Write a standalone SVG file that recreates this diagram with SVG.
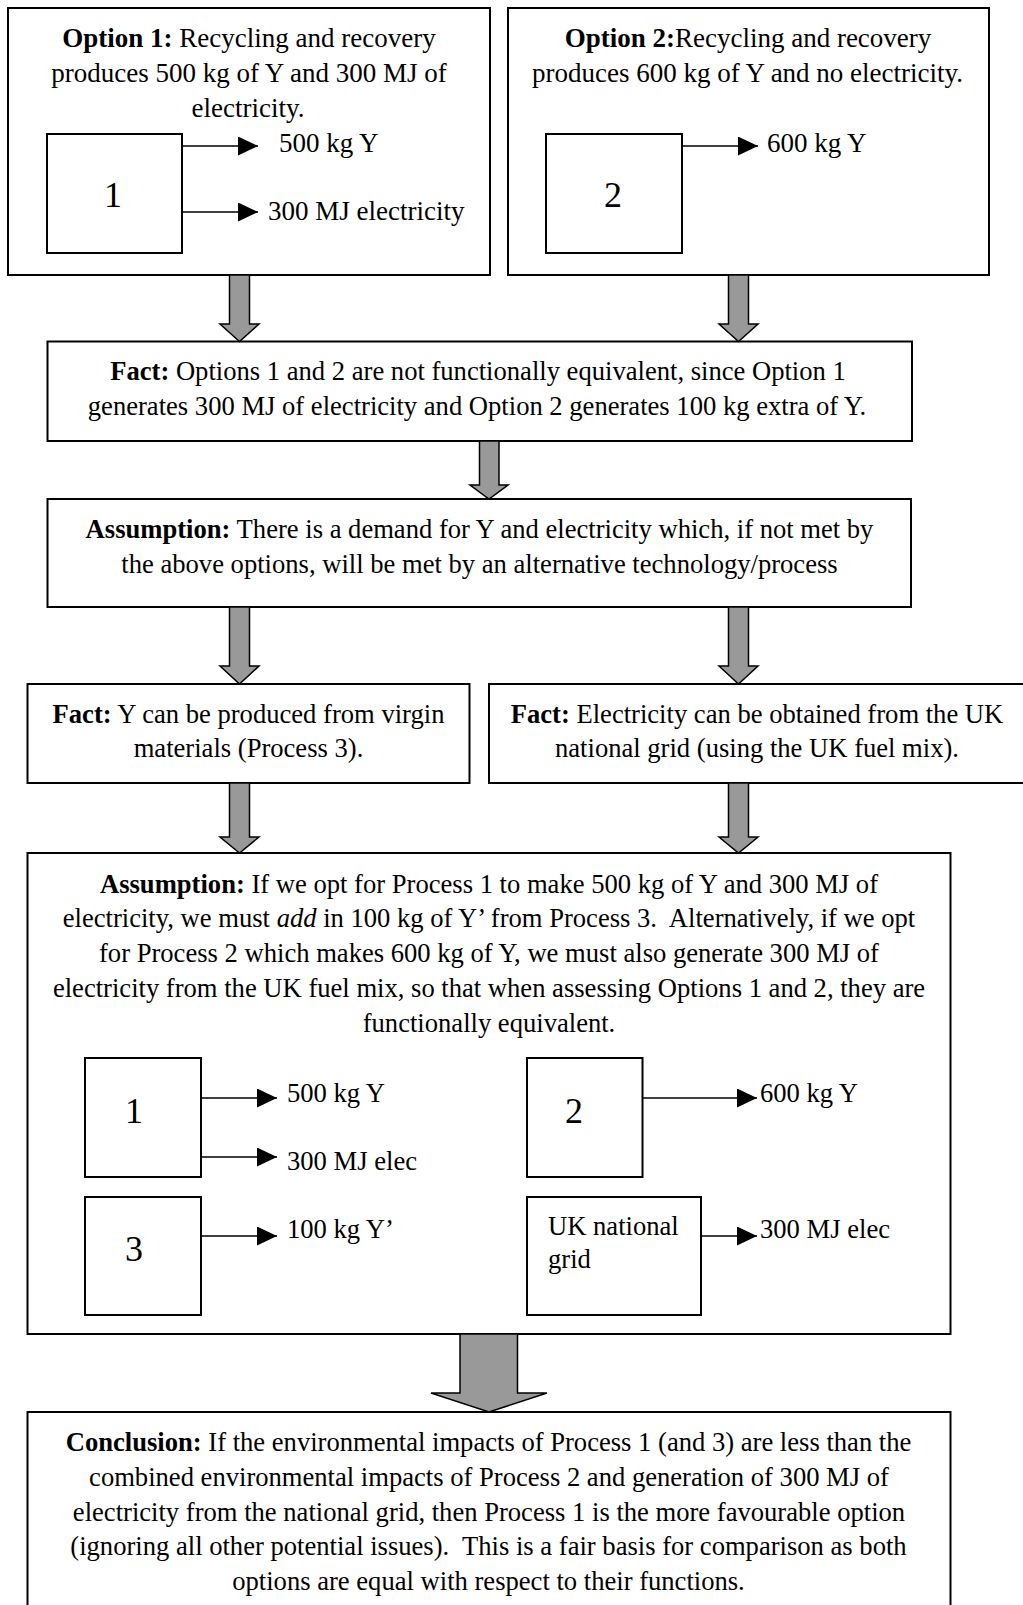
<svg xmlns="http://www.w3.org/2000/svg" width="1023" height="1605" viewBox="0 0 1023 1605">
<style>
text{font-family:"Liberation Serif","Times New Roman",serif;font-size:26.6px;fill:#000}
.c{text-anchor:middle}
.b{font-weight:bold}
.opt{font-size:27px}
.num{font-size:36px;text-anchor:middle}
.box{fill:#fff;stroke:#000;stroke-width:2}
.ln{stroke:#000;stroke-width:1.6;fill:none;marker-end:url(#ah)}
.blk{fill:#999;stroke:#000;stroke-width:1.5;stroke-linejoin:miter}
</style>
<defs>
<marker id="ah" markerUnits="userSpaceOnUse" markerWidth="20" markerHeight="19" refX="20" refY="9.5" orient="auto">
<path d="M0,0 L20,9.5 L0,19 Z" fill="#000"/>
</marker>
</defs>
<rect width="1023" height="1605" fill="#fff"/>

<g id="option1">
<rect class="box" x="8" y="8" width="482" height="267"/>
<text class="c opt" x="249" y="47"><tspan class="b">Option 1:</tspan> Recycling and recovery</text>
<text class="c opt" x="249" y="82">produces 500 kg of Y and 300 MJ of</text>
<text class="c opt" x="248" y="117">electricity.</text>
<rect class="box" x="47" y="134" width="135" height="119"/>
<text class="num" x="113" y="207">1</text>
<line class="ln" x1="182" y1="146" x2="258" y2="146"/>
<text class="opt" x="279" y="152">500 kg Y</text>
<line class="ln" x1="182" y1="212" x2="258" y2="212"/>
<text class="opt" x="268" y="220">300 MJ electricity</text>
</g>

<g id="option2">
<rect class="box" x="508" y="8" width="481" height="267"/>
<text class="c opt" x="748" y="47"><tspan class="b">Option 2:</tspan>Recycling and recovery</text>
<text class="c opt" x="747.5" y="82">produces 600 kg of Y and no electricity.</text>
<rect class="box" x="546" y="134" width="136" height="119"/>
<text class="num" x="613" y="207">2</text>
<line class="ln" x1="682" y1="146" x2="758" y2="146"/>
<text class="opt" x="767" y="152">600 kg Y</text>
</g>

<g id="fact1">
<rect class="box" x="47.5" y="341.5" width="864.5" height="99.5"/>
<text class="c" x="478" y="380"><tspan class="b">Fact:</tspan> Options 1 and 2 are not functionally equivalent, since Option 1</text>
<text class="c" x="477" y="415">generates 300 MJ of electricity and Option 2 generates 100 kg extra of Y.</text>
</g>

<g id="assumption1">
<rect class="box" x="47.5" y="499" width="863.5" height="108"/>
<text class="c" x="479.5" y="538"><tspan class="b">Assumption:</tspan> There is a demand for Y and electricity which, if not met by</text>
<text class="c" x="479.5" y="573">the above options, will be met by an alternative technology/process</text>
</g>

<g id="factY">
<rect class="box" x="27.5" y="684" width="442" height="99"/>
<text class="c" x="248.5" y="723"><tspan class="b">Fact:</tspan> Y can be produced from virgin</text>
<text class="c" x="248.5" y="757">materials (Process 3).</text>
</g>

<g id="factElec">
<rect class="box" x="489" y="684" width="545" height="99"/>
<text class="c" x="757" y="723"><tspan class="b">Fact:</tspan> Electricity can be obtained from the UK</text>
<text class="c" x="757" y="757">national grid (using the UK fuel mix).</text>
</g>

<g id="assumption2">
<rect class="box" x="27.5" y="853" width="923" height="481"/>
<text class="c" x="489" y="893"><tspan class="b">Assumption:</tspan> If we opt for Process 1 to make 500 kg of Y and 300 MJ of</text>
<text class="c" x="489" y="927" xml:space="preserve">electricity, we must <tspan font-style="italic">add</tspan> in 100 kg of Y’ from Process 3.  Alternatively, if we opt</text>
<text class="c" x="489" y="962">for Process 2 which makes 600 kg of Y, we must also generate 300 MJ of</text>
<text class="c" x="489" y="997">electricity from the UK fuel mix, so that when assessing Options 1 and 2, they are</text>
<text class="c" x="489" y="1032">functionally equivalent.</text>
<rect class="box" x="85" y="1058" width="116" height="119"/>
<text class="num" x="134" y="1123">1</text>
<line class="ln" x1="201" y1="1098" x2="277" y2="1098"/>
<text x="287" y="1102">500 kg Y</text>
<line class="ln" x1="201" y1="1157" x2="277" y2="1157"/>
<text x="287" y="1170">300 MJ elec</text>
<rect class="box" x="85" y="1197" width="116" height="118"/>
<text class="num" x="134" y="1261">3</text>
<line class="ln" x1="201" y1="1236" x2="277" y2="1236"/>
<text x="287" y="1238">100 kg Y’</text>
<rect class="box" x="527" y="1058" width="115.5" height="119"/>
<text class="num" x="574" y="1123">2</text>
<line class="ln" x1="642.5" y1="1098" x2="757" y2="1098"/>
<text x="760" y="1102">600 kg Y</text>
<rect class="box" x="527" y="1197" width="174" height="118"/>
<text x="548" y="1235">UK national</text>
<text x="548" y="1268">grid</text>
<line class="ln" x1="701" y1="1236" x2="757" y2="1236"/>
<text x="760" y="1238">300 MJ elec</text>
</g>

<g id="conclusion">
<rect class="box" x="27.5" y="1412" width="923" height="210"/>
<text class="c" x="488.5" y="1451"><tspan class="b">Conclusion:</tspan> If the environmental impacts of Process 1 (and 3) are less than the</text>
<text class="c" x="489" y="1486">combined environmental impacts of Process 2 and generation of 300 MJ of</text>
<text class="c" x="489" y="1520.5">electricity from the national grid, then Process 1 is the more favourable option</text>
<text class="c" x="488.5" y="1555" xml:space="preserve">(ignoring all other potential issues).  This is a fair basis for comparison as both</text>
<text class="c" x="488.5" y="1589.5">options are equal with respect to their functions.</text>
</g>

<g id="connectors">
<polygon class="blk" points="229.5,275 249.5,275 249.5,324 259,324 239.5,341.5 220,324 229.5,324"/>
<polygon class="blk" points="728.5,275 748.5,275 748.5,324 758,324 738.5,341.5 719,324 728.5,324"/>
<polygon class="blk" points="479.5,441 499,441 499,485 508,485 489,499 470,485 479.5,485"/>
<polygon class="blk" points="229.5,607 249.5,607 249.5,666 259,666 239.5,684 220,666 229.5,666"/>
<polygon class="blk" points="728.5,607 748.5,607 748.5,666 758,666 738.5,684 719,666 728.5,666"/>
<polygon class="blk" points="229.5,783 249.5,783 249.5,837 259,837 239.5,853 220,837 229.5,837"/>
<polygon class="blk" points="728.5,783 748.5,783 748.5,837 758,837 738.5,853 719,837 728.5,837"/>
<polygon class="blk" points="460,1334 517.5,1334 517.5,1393 547,1393 489,1412 431,1393 460,1393"/>
</g>
</svg>
